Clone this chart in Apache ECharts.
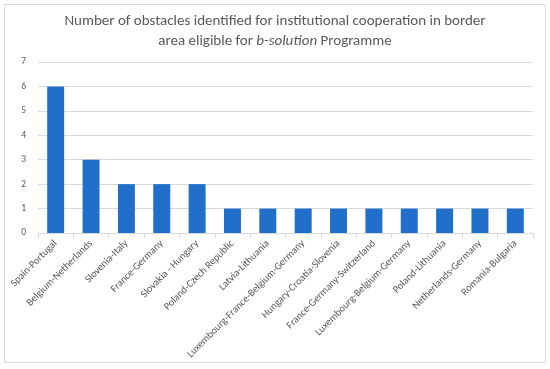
<!DOCTYPE html>
<html><head><meta charset="utf-8">
<script src="https://cdn.jsdelivr.net/npm/echarts@6/dist/echarts.min.js"></script>
<style>html,body{margin:0;padding:0;background:#fff}#c{width:550px;height:369px}</style>
</head><body><div id="c"></div>
<script>
const categories = ["Spain-Portugal","Belgium-Netherlands","Slovenia-Italy","France-Germany","Slovakia - Hungary","Poland-Czech Republic","Latvia-Lithuania","Luxembourg-France-Belgium-Germany","Hungary-Croatia-Slovenia","France-Germany-Switzerland","Luxembourg-Belgium-Germany","Poland-Lithuania","Netherlands-Germany","Romania-Bulgaria"];
const values = [6,3,2,2,2,1,1,1,1,1,1,1,1,1];
const yTicks = [0,1,2,3,4,5,6,7];
const font = "Carlito, Calibri, 'Open Sans', sans-serif";
const chart = echarts.init(document.getElementById('c'));
chart.setOption({
  animation:false,
  graphic:[{type:'rect',shape:{x:4.5,y:4.5,width:541,height:358},style:{fill:'none',stroke:'#d9d9d9',lineWidth:1}}],
  title:{
    text:"Number of obstacles identified for institutional cooperation in border\narea eligible for {i|b-solution} Programme",
    left:'center', top:6,
    textStyle:{fontFamily:font,fontSize:15,fontWeight:'normal',color:'#595959',lineHeight:20,
      rich:{i:{fontStyle:'italic',fontFamily:font,fontSize:15,color:'#595959',lineHeight:20}}}
  },
  grid:{left:38,right:17,top:62,bottom:136},
  xAxis:{type:'category',data:categories,
    axisLine:{lineStyle:{color:'#d9d9d9'}},
    axisTick:{show:true,alignWithLabel:false,lineStyle:{color:'#d9d9d9'}},
    axisLabel:{rotate:45,interval:0,color:'#595959',fontSize:10.3,fontFamily:font,margin:9}},
  yAxis:{type:'value',min:yTicks[0],max:yTicks[yTicks.length-1],interval:1,
    axisLine:{show:false},axisTick:{show:false},
    splitLine:{lineStyle:{color:'#d9d9d9'}},
    axisLabel:{color:'#595959',fontSize:9.5,fontFamily:font,margin:12}},
  series:[{type:'bar',data:values,barWidth:'48%',itemStyle:{color:'#1f6fcb'}}]
});
</script></body></html>
